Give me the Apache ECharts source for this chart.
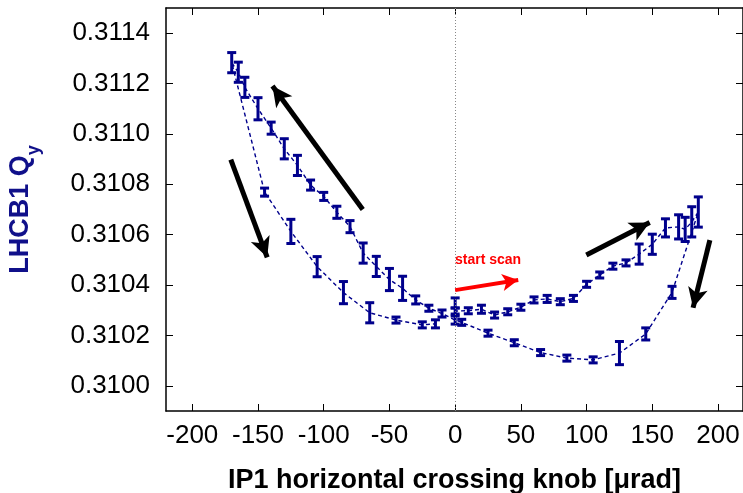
<!DOCTYPE html>
<html><head><meta charset="utf-8">
<script src="https://cdn.jsdelivr.net/npm/echarts@6/dist/echarts.min.js"></script>
<style>html,body{margin:0;padding:0;background:#fff}#c{width:743px;height:493px}</style>
</head><body><div id="c"></div>
<script>
// scan sequence: upper-right, lower-right, upper-left, lower-left
const knob = [0, 0, 10, 20, 30, 40, 50, 60, 70, 80, 90, 100, 110, 120, 130, 140, 150, 160, 170, 175, 180, 185,
  165, 145, 125, 105, 85, 65, 45, 25, 5,
  0, -10, -20, -30, -40, -50, -60, -70, -80, -90, -100, -110, -120, -130, -140, -150, -160, -165, -170,
  -145, -125, -105, -85, -65, -45, -25, -15];
const qy = [0.310329, 0.310297, 0.310298, 0.310304, 0.310281, 0.310294, 0.310312, 0.310341, 0.310345, 0.310334, 0.310347, 0.310403, 0.310440, 0.310475, 0.310488, 0.310523, 0.310562, 0.310627, 0.310631, 0.310621, 0.310651, 0.310690,
  0.310371, 0.310206, 0.310130, 0.310103, 0.310110, 0.310132, 0.310171, 0.310209, 0.310252,
  0.310261, 0.310287, 0.310308, 0.310341, 0.310387, 0.310422, 0.310474, 0.310527, 0.310632, 0.310689, 0.310752, 0.310797, 0.310875, 0.310941, 0.311023, 0.311100, 0.311185, 0.311245, 0.311283,
  0.310769, 0.310613, 0.310473, 0.310370, 0.310290, 0.310261, 0.310242, 0.310246];
const qyErr = [0.000020, 0.000012, 0.000012, 0.000016, 0.000012, 0.000012, 0.000012, 0.000012, 0.000014, 0.000012, 0.000012, 0.000012, 0.000012, 0.000012, 0.000012, 0.000040, 0.000040, 0.000036, 0.000048, 0.000048, 0.000060, 0.000060,
  0.000024, 0.000024, 0.000046, 0.000012, 0.000012, 0.000012, 0.000012, 0.000012, 0.000012,
  0.000016, 0.000014, 0.000012, 0.000016, 0.000048, 0.000044, 0.000040, 0.000040, 0.000024, 0.000024, 0.000016, 0.000020, 0.000040, 0.000040, 0.000024, 0.000044, 0.000040, 0.000040, 0.000040,
  0.000016, 0.000048, 0.000040, 0.000044, 0.000040, 0.000012, 0.000012, 0.000016];
const yTicks = [0.3100, 0.3102, 0.3104, 0.3106, 0.3108, 0.3110, 0.3112, 0.3114];
const xTicks = [-200, -150, -100, -50, 0, 50, 100, 150, 200];
// annotation arrows [x1, y1, x2, y2] in data units
const blackArrows = [
  [-70.3, 0.310700, -139, 0.311190],
  [-170.7, 0.310898, -143, 0.310510],
  [99.8, 0.310519, 148, 0.310648],
  [193.8, 0.310578, 181, 0.310310]
];
const redArrow = [0, 0.310380, 48, 0.310420];

const NAVY = '#00008c';
const lineData = knob.map((x, i) => [x, qy[i]]);
const errData = knob.map((x, i) => [x, qy[i], qyErr[i]]);

const chart = echarts.init(document.getElementById('c'), null, {renderer: 'canvas'});
const axisFont = {fontFamily: 'Liberation Sans', fontSize: 26, color: '#000'};
chart.setOption({
  animation: false,
  grid: {left: 166, right: 0, top: 8, bottom: 82, containLabel: false, outerBoundsMode: 'none'},
  xAxis: [{
    type: 'value', min: -220, max: 219, position: 'bottom',
    axisLine: {show: true, onZero: false, lineStyle: {color: '#000', width: 1.5}},
    axisTick: {show: true, inside: true, length: 7, customValues: xTicks, lineStyle: {color: '#000', width: 1}},
    axisLabel: Object.assign({margin: 12, customValues: xTicks, formatter: v => String(Math.round(v))}, axisFont),
    splitLine: {show: false},
    name: 'IP1 horizontal crossing knob [\u03bcrad]', nameLocation: 'middle', nameGap: 56,
    nameTextStyle: {fontFamily: 'Liberation Sans', fontWeight: 'bold', fontSize: 27, color: '#000'}
  }, {
    type: 'value', min: -220, max: 219, position: 'top',
    axisLine: {show: true, onZero: false, lineStyle: {color: '#000', width: 1.5}},
    axisTick: {show: true, inside: true, length: 7, customValues: xTicks, lineStyle: {color: '#000', width: 1}},
    axisLabel: {show: false}, splitLine: {show: false}
  }],
  yAxis: [{
    type: 'value', min: 0.3099, max: 0.3115, position: 'left',
    axisLine: {show: true, onZero: false, lineStyle: {color: '#000', width: 1.5}},
    axisTick: {show: true, inside: true, length: 7, customValues: yTicks, lineStyle: {color: '#000', width: 1}},
    axisLabel: Object.assign({margin: 16, customValues: yTicks, formatter: v => v.toFixed(4)}, axisFont),
    splitLine: {show: false},
    name: '{a|LHCB1 Q}{b|y}', nameLocation: 'middle', nameGap: 123,
    nameTextStyle: {
      rich: {
        a: {fontFamily: 'Liberation Sans', fontWeight: 'bold', fontSize: 27, color: '#10108a', lineHeight: 36, verticalAlign: 'top'},
        b: {fontFamily: 'Liberation Sans', fontWeight: 'bold', fontSize: 18, color: '#10108a', lineHeight: 36, verticalAlign: 'bottom'}
      }
    }
  }, {
    type: 'value', min: 0.3099, max: 0.3115, position: 'right',
    axisLine: {show: true, onZero: false, lineStyle: {color: '#000', width: 1.5}},
    axisTick: {show: true, inside: true, length: 7, customValues: yTicks, lineStyle: {color: '#000', width: 1}},
    axisLabel: {show: false}, splitLine: {show: false}
  }],
  series: [{
    type: 'line', data: lineData, symbol: 'none', z: 3,
    lineStyle: {color: NAVY, width: 1.4, type: [4, 3]},
    markLine: {
      silent: true, symbol: 'none', label: {show: false},
      lineStyle: {color: '#888', width: 1, type: [1, 2]},
      data: [{xAxis: 0}]
    }
  }, {
    type: 'custom', data: errData, z: 4,
    renderItem: function (params, api) {
      const x = api.value(0), y = api.value(1), e = api.value(2);
      const t = api.coord([x, y + e]);
      const b = api.coord([x, y - e]);
      const w = 4.5;
      const st = {stroke: NAVY, lineWidth: 3};
      return {type: 'group', children: [
        {type: 'line', shape: {x1: t[0], y1: t[1], x2: b[0], y2: b[1]}, style: st},
        {type: 'line', shape: {x1: t[0] - w, y1: t[1], x2: t[0] + w, y2: t[1]}, style: st},
        {type: 'line', shape: {x1: b[0] - w, y1: b[1], x2: b[0] + w, y2: b[1]}, style: st}
      ]};
    }
  }, {
    type: 'line', data: [], z: 5,
    markLine: {
      silent: true, symbol: ['none', 'arrow'], symbolSize: [15, 20], label: {show: false},
      lineStyle: {color: '#000', width: 5, type: 'solid'},
      data: blackArrows.map(a => [{coord: [a[0], a[1]]}, {coord: [a[2], a[3]]}])
    }
  }, {
    type: 'line', data: [], z: 5,
    markLine: {
      silent: true, symbol: ['none', 'arrow'], symbolSize: [13, 16], label: {show: false},
      lineStyle: {color: '#ff0000', width: 4, type: 'solid'},
      data: [[{coord: [redArrow[0], redArrow[1]]}, {coord: [redArrow[2], redArrow[3]]}]]
    }
  }],
  graphic: [{
    type: 'text', left: 455, top: 253,
    style: {text: 'start scan', fill: '#ff0000', font: 'bold 14px "Liberation Sans"'}
  }]
});
</script></body></html>
